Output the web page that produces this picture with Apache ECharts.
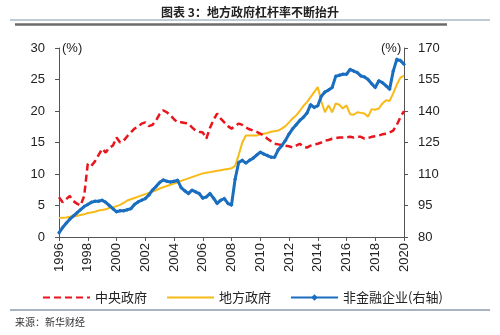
<!DOCTYPE html>
<html>
<head>
<meta charset="utf-8">
<script src="https://cdn.jsdelivr.net/npm/echarts@6/dist/echarts.min.js"></script>
<style>
  html, body { margin: 0; padding: 0; background: #fff; }
  #chart { width: 500px; height: 335px; }
</style>
</head>
<body>
<div id="chart"></div>
<script>
// Quarterly readings, first point 1996Q1, step of one quarter
const startYear = 1996;
const step = 0.25;

// 中央政府 (left axis, %)
const centralGov = [
  6.3, 5.5, 6.0, 6.5, 5.7, 5.3, 5.0, 6.5,
  11.6, 11.3, 12.0, 13.0, 14.0, 13.4, 14.2, 14.5,
  15.8, 15.0, 15.3, 16.0, 16.6, 17.2, 17.5, 18.0,
  18.2, 17.6, 17.8, 18.5, 19.5, 20.1, 19.8, 19.3,
  18.7, 18.2, 18.2, 18.1, 18.0, 17.4, 16.9, 16.7,
  16.6, 15.6, 17.3, 18.6, 19.6, 18.8, 18.2, 17.6,
  17.2, 17.6, 18.0, 17.8, 17.4, 17.1, 16.9, 16.7,
  16.4, 16.1, 15.6, 15.2, 14.8, 14.7, 14.6, 14.5,
  14.4, 14.2, 14.5, 14.8, 14.3, 14.2, 14.5, 14.7,
  14.8, 15.0, 15.3, 15.4, 15.6, 15.7, 15.8, 15.8,
  15.8, 15.9, 15.8, 15.9, 15.9, 15.6, 15.7, 15.9,
  16.0, 16.1, 16.3, 16.4, 16.6, 16.9, 17.8, 19.0,
  20.0
];

// 地方政府 (left axis, %)
const localGov = [
  3.0, 3.05, 3.1, 3.2, 3.3, 3.35, 3.5, 3.6,
  3.8, 3.9, 4.0, 4.2, 4.3, 4.4, 4.6, 4.7,
  4.9, 5.1, 5.4, 5.8, 6.0, 6.2, 6.4, 6.6,
  6.8, 7.0, 7.2, 7.4, 7.7, 7.9, 8.1, 8.3,
  8.5, 8.7, 8.9, 9.1, 9.3, 9.5, 9.7, 9.9,
  10.1, 10.2, 10.3, 10.4, 10.5, 10.6, 10.7, 10.8,
  10.9, 11.3, 13.0, 15.0, 16.1, 16.1, 16.1, 16.1,
  16.3, 16.4, 16.5, 16.7, 16.8, 16.9, 17.2, 17.6,
  18.2, 18.8, 19.3, 20.0, 20.8, 21.4, 22.2, 23.0,
  23.8, 21.5, 19.8, 20.9, 19.8, 21.2, 21.0, 20.4,
  20.9, 19.5, 19.4, 19.8, 19.7, 19.6, 19.1, 20.3,
  20.2, 20.4, 21.2, 21.7, 21.6, 22.8, 24.2, 25.3,
  25.6
];

// 非金融企业 (right axis, %)
const nonFinCorp = [
  82.0, 84.5, 86.5, 88.5, 90.0, 91.5, 93.0, 94.5,
  95.5, 96.5, 97.0, 97.0, 97.5, 96.5, 95.0, 93.5,
  92.0, 92.5, 92.5, 93.0, 93.5, 95.5, 96.7, 97.5,
  98.3, 100.0, 102.3, 104.0, 106.0, 107.2, 106.5, 106.2,
  106.5, 107.0, 103.5, 102.0, 100.7, 102.3, 101.5, 100.7,
  98.5, 99.1, 100.7, 98.5, 96.0, 97.5, 98.3, 96.0,
  95.2, 107.5, 115.5, 116.5, 115.2, 116.5, 117.5, 119.0,
  120.4, 119.5, 118.8, 118.0, 118.0, 121.5, 123.5, 126.0,
  129.0, 131.5, 133.5, 135.5, 137.0, 139.0, 143.0, 141.7,
  142.5, 147.0, 149.0, 150.0, 151.2, 156.5, 157.0, 157.5,
  157.5, 159.8, 159.0, 158.3, 156.7, 156.2, 155.0, 153.0,
  151.2, 154.4, 153.5, 152.0, 150.4, 159.0, 164.6, 164.0,
  162.3
];

const seriesNames = ['中央政府', '地方政府', '非金融企业(右轴)'];
const leftTicks = { min: 0, max: 30, interval: 5 };
const rightTicks = { min: 80, max: 170, interval: 15 };
const yearTicks = { min: 1996, max: 2020, interval: 2 };

const toPairs = arr => arr.map((v, i) => [startYear + i * step, v]);

const RED = '#E8151D';
const GOLD = '#F7BA17';
const BLUE = '#1A6EC0';
const AXIS = '#555';
const FONT = 'Liberation Sans, Arial, sans-serif';
const CJK = '"Noto Sans CJK SC", sans-serif';

const chart = echarts.init(document.getElementById('chart'), null, { renderer: 'canvas' });

chart.setOption({
  backgroundColor: '#fff',
  animation: false,
  title: {
    text: '图表 3：地方政府杠杆率不断抬升',
    left: 'center',
    top: 1,
    textStyle: { fontFamily: CJK, fontSize: 12, fontWeight: 'bold', color: '#222' }
  },
  graphic: [
    { type: 'line', shape: { x1: 10, y1: 20, x2: 490, y2: 20 }, style: { stroke: '#7F97AE', lineWidth: 1 } },
    { type: 'line', shape: { x1: 15, y1: 24.5, x2: 447, y2: 24.5 }, style: { stroke: '#6B6B6B', lineWidth: 2.5 } },
    { type: 'line', shape: { x1: 10, y1: 310, x2: 490, y2: 310 }, style: { stroke: '#4E6A86', lineWidth: 1 } },
    { type: 'text', left: 15, top: 317, style: { text: '来源：新华财经', font: '10px ' + CJK, fill: '#333' } },
    { type: 'text', left: 62, top: 42, style: { text: '(%)', font: '13px ' + FONT, fill: '#222' } },
    { type: 'text', left: 381, top: 42, style: { text: '(%)', font: '13px ' + FONT, fill: '#222' } }
  ],
  legend: {
    data: [
      { name: seriesNames[0], itemStyle: { opacity: 0 } },
      { name: seriesNames[1], itemStyle: { opacity: 0 } },
      { name: seriesNames[2] }
    ],
    left: 37,
    top: 286,
    itemWidth: 47,
    itemHeight: 8,
    itemGap: 19,
    textStyle: { fontFamily: CJK, fontSize: 13, color: '#222' }
  },
  grid: { left: 59, right: 96, top: 48, bottom: 98, containLabel: false },
  xAxis: {
    type: 'value',
    min: yearTicks.min,
    max: yearTicks.max,
    interval: yearTicks.interval,
    splitLine: { show: false },
    axisLine: { lineStyle: { color: AXIS, width: 1 } },
    axisTick: { show: true, length: 4, lineStyle: { color: AXIS } },
    axisLabel: {
      rotate: 90,
      margin: 6,
      fontFamily: FONT,
      fontSize: 13,
      color: '#222',
      formatter: v => String(v)
    }
  },
  yAxis: [
    {
      type: 'value',
      position: 'left',
      min: leftTicks.min,
      max: leftTicks.max,
      interval: leftTicks.interval,
      splitLine: { show: false },
      axisLine: { show: true, lineStyle: { color: AXIS, width: 1 } },
      axisTick: { show: true, length: 4, lineStyle: { color: AXIS } },
      axisLabel: { margin: 14, fontFamily: FONT, fontSize: 13, color: '#222' }
    },
    {
      type: 'value',
      position: 'right',
      min: rightTicks.min,
      max: rightTicks.max,
      interval: rightTicks.interval,
      splitLine: { show: false },
      axisLine: { show: true, lineStyle: { color: AXIS, width: 1 } },
      axisTick: { show: true, length: 4, lineStyle: { color: AXIS } },
      axisLabel: { margin: 14, fontFamily: FONT, fontSize: 13, color: '#222' }
    }
  ],
  series: [
    {
      name: seriesNames[0],
      type: 'line',
      yAxisIndex: 0,
      data: toPairs(centralGov),
      symbol: 'none',
      lineStyle: { color: RED, width: 2.5, type: [7, 4] },
      itemStyle: { color: RED },
      z: 3
    },
    {
      name: seriesNames[1],
      type: 'line',
      yAxisIndex: 0,
      data: toPairs(localGov),
      symbol: 'none',
      lineStyle: { color: GOLD, width: 2 },
      itemStyle: { color: GOLD },
      z: 2
    },
    {
      name: seriesNames[2],
      type: 'line',
      yAxisIndex: 1,
      data: toPairs(nonFinCorp),
      symbol: 'diamond',
      symbolSize: 4,
      showAllSymbol: true,
      lineStyle: { color: BLUE, width: 3 },
      itemStyle: { color: BLUE },
      z: 4
    }
  ]
});
</script>
</body>
</html>
